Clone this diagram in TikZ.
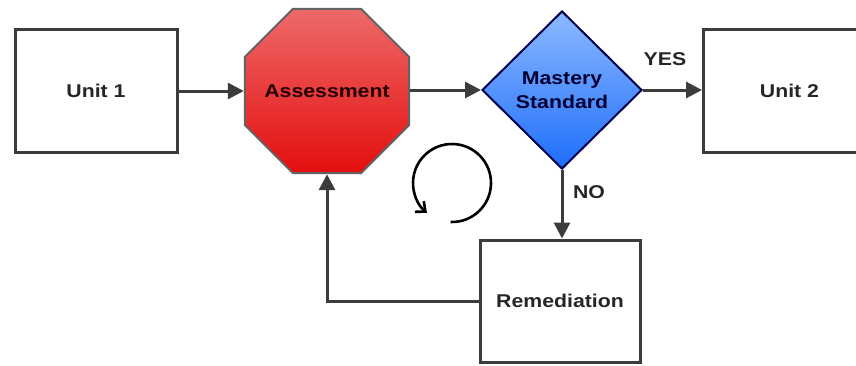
\documentclass[tikz,border=0pt]{standalone}
\usepackage{fontspec}
\setmainfont{Liberation Sans}
\newfontfamily\labfont{Liberation Sans}[FakeStretch=1.15]
\usetikzlibrary{shapes.geometric,arrows.meta}
\definecolor{linec}{HTML}{3C3C3C}
\definecolor{txtc}{HTML}{262626}
\definecolor{redtop}{RGB}{238,105,105}
\definecolor{redbot}{RGB}{228,14,14}
\definecolor{bluetop}{RGB}{140,185,255}
\definecolor{bluebot}{RGB}{30,110,250}
\tikzset{
  lab/.style={font=\labfont\bfseries\fontsize{18.5}{24}\selectfont, text=txtc, align=center},
  boxnode/.style={draw=linec, line width=3pt, fill=white, minimum width=162pt, minimum height=122pt, inner sep=0pt, lab},
  octnode/.style={regular polygon, regular polygon sides=8, minimum size=178pt, inner sep=0pt, draw=linec!80, line width=2pt, top color=redtop, bottom color=redbot, lab, text=black!85!red},
  dianode/.style={diamond, minimum width=160pt, minimum height=158pt, inner sep=0pt, draw=black!70!blue, line width=2pt, top color=bluetop, bottom color=bluebot, lab, text=black!80!blue},
  conn/.style={draw=linec, line width=3pt, -{Triangle[length=16pt,width=16pt]}},
  cyc/.style={draw=black, line width=2.6pt, -{Straight Barb[length=8pt,width=14pt]}}
}
\begin{document}
\begin{tikzpicture}[x=1pt,y=1pt]
\clip (0,0) rectangle (856,365);
\fill[white] (0,0) rectangle (856,365);
\node[boxnode] (u1) at (96,274) {Unit 1};
\node[octnode] (as) at (327,274) {\makebox[0pt]{Assessment}};
\node[dianode] (ms) at (562,275) {Mastery\\Standard};
\node[boxnode, minimum width=172pt, anchor=west] (u2) at (702,274) {\hspace*{-2pt}Unit 2\hspace*{-2pt}};
\node[boxnode, minimum width=160pt] (rem) at (560,64) {Remediation};
\draw[conn] (u1.east) -- (as.west |- u1.east);
\draw[conn] (as.east |- ms.west) -- (ms.west);
\draw[conn] (ms.east) -- (u2.west |- ms.east);
\node[lab] (yes) at (665,306) {YES};
\draw[conn] (ms.south) -- (ms.south |- rem.north);
\node[lab] (no) at (589,173) {NO};
\draw[conn] (rem.west) -| (as.south);
\coordinate (cc) at (452,182);
\draw[cyc] (cc) ++(-92:39) arc[start angle=-92, end angle=230, radius=39];
\end{tikzpicture}
\end{document}
